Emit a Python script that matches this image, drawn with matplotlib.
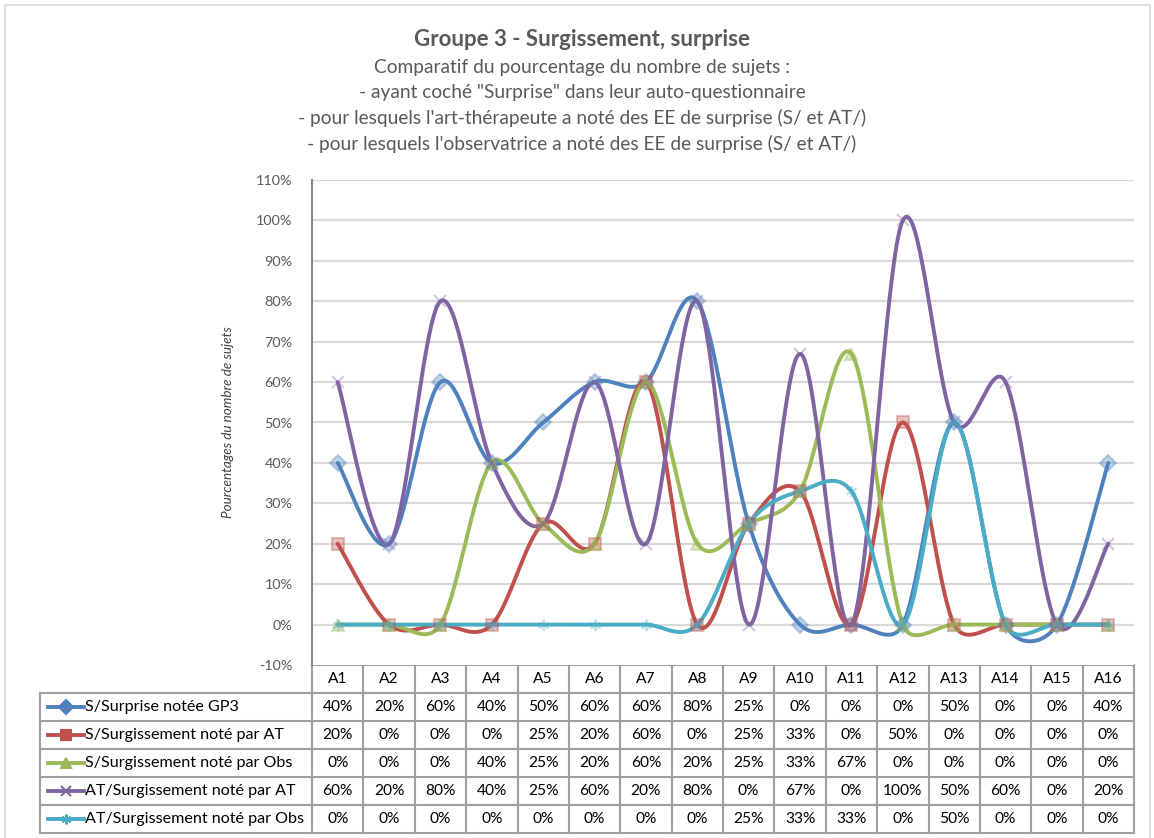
import matplotlib
matplotlib.use("Agg")
import matplotlib.pyplot as plt
import numpy as np

plt.rcParams['font.family'] = ['Lato', 'DejaVu Sans']

W, H = 1154, 838

categories = ["A1", "A2", "A3", "A4", "A5", "A6", "A7", "A8",
              "A9", "A10", "A11", "A12", "A13", "A14", "A15", "A16"]

s_surprise = [40, 20, 60, 40, 50, 60, 60, 80, 25, 0, 0, 0, 50, 0, 0, 40]
s_surg_at = [20, 0, 0, 0, 25, 20, 60, 0, 25, 33, 0, 50, 0, 0, 0, 0]
s_surg_obs = [0, 0, 0, 40, 25, 20, 60, 20, 25, 33, 67, 0, 0, 0, 0, 0]
at_surg_at = [60, 20, 80, 40, 25, 60, 20, 80, 0, 67, 0, 100, 50, 60, 0, 20]
at_surg_obs = [0, 0, 0, 0, 0, 0, 0, 0, 25, 33, 33, 0, 50, 0, 0, 0]

series_names = ["S/Surprise notée GP3", "S/Surgissement noté par AT",
                "S/Surgissement noté par Obs", "AT/Surgissement noté par AT",
                "AT/Surgissement noté par Obs"]
series_vals = [s_surprise, s_surg_at, s_surg_obs, at_surg_at, at_surg_obs]
colors = ["#4F81BD", "#C0504D", "#9BBB59", "#8064A2", "#4BACC6"]
markers = ["D", "s", "^", "x", (6, 2, 0)]

yticks = list(range(-10, 111, 10))

# pixel layout
PL, PR, PT, PB = 312, 1134, 180, 665
row_h = 28
ncol = len(categories)
cw = (PR - PL) / ncol
ypx = (PB - PT) / 120.0


def smooth(x, y, n=40):
    # Excel-like smoothed line: bezier, 1/6 tangents capped at half the segment
    P = np.column_stack([np.asarray(x, float) * cw, np.asarray(y, float) * ypx])
    Q = np.vstack([P[0], P, P[-1]])
    out = []
    t = np.linspace(0, 1, n)[:, None]
    for i in range(1, len(Q) - 2):
        p0, p1, p2, p3 = Q[i - 1], Q[i], Q[i + 1], Q[i + 2]
        d02 = np.linalg.norm(p2 - p0)
        d12 = np.linalg.norm(p2 - p1)
        d13 = np.linalg.norm(p3 - p1)
        f1 = 1 / 6 if d02 / 6 < d12 / 2 else d12 / (2 * d02)
        f2 = 1 / 6 if d13 / 6 < d12 / 2 else d12 / (2 * d13)
        c1 = p1 + (p2 - p0) * f1
        c2 = p2 - (p3 - p1) * f2
        b = (1 - t) ** 3 * p1 + 3 * (1 - t) ** 2 * t * c1 + 3 * (1 - t) * t ** 2 * c2 + t ** 3 * p2
        out.append(b)
    B = np.vstack(out)
    return B[:, 0] / cw, B[:, 1] / ypx


fig = plt.figure(figsize=(W / 100, H / 100), dpi=100)
fig.patch.set_facecolor("white")

# overlay axes in pixel coords for titles and table
ov = fig.add_axes([0, 0, 1, 1])
ov.set_xlim(0, W)
ov.set_ylim(H, 0)
ov.axis("off")

ov.add_patch(plt.Rectangle((5, 5), W - 9, H - 3, fill=False, edgecolor="#D9D9D9", lw=1.2))

ov.text(582, 40, "Groupe 3 - Surgissement, surprise", ha="center", va="center",
        fontsize=16, fontweight="bold", color="#595959")
subs = ["Comparatif du pourcentage du nombre de sujets :",
        "- ayant coché \"Surprise\" dans leur auto-questionnaire",
        "- pour lesquels l'art-thérapeute a noté des EE de surprise (S/ et AT/)",
        "- pour lesquels l'observatrice a noté des EE de surprise (S/ et AT/)"]
for i, s in enumerate(subs):
    ov.text(582, 67 + i * 25.5, s, ha="center", va="center", fontsize=13.8, color="#595959")

# main chart axes
ax = fig.add_axes([PL / W, 1 - PB / H, (PR - PL) / W, (PB - PT) / H])
xpos = np.arange(ncol)
ax.set_xlim(-0.5, ncol - 0.5)
ax.set_ylim(-10, 110)
ax.set_yticks(yticks)
ax.set_yticklabels([f"{v}%" for v in yticks], fontsize=10.4, color="#595959")
ax.tick_params(axis="y", length=0, pad=14)
ax.set_xticks([])
for v in yticks[1:]:
    ax.axhline(v, color="#D9D9D9", lw=1.6, zorder=0)
for sp in ["top", "right", "bottom"]:
    ax.spines[sp].set_visible(False)
ax.spines["left"].set_color("#868686")
ax.spines["left"].set_linewidth(1.5)
ax.set_ylabel("Pourcentages du nombre de sujets", fontsize=9.7, style="italic",
              color="#404040", labelpad=16)

for vals, c, m in zip(series_vals, colors, markers):
    sx, sy = smooth(xpos, vals)
    ax.plot(sx, sy, color=c, lw=2.8, zorder=3, solid_capstyle="round", clip_on=False)
    ax.plot(xpos, vals, linestyle="none", marker=m, color=c, ms=8, alpha=0.35,
            mew=1.5, zorder=4, clip_on=False)

# data table
LL = 40
gc = "#A0A0A0"
ov.plot([PL, PR], [PB, PB], color=gc, lw=1.5)
for j, cat in enumerate(categories):
    ov.text(PL + (j + 0.5) * cw, PB + row_h / 2, cat, ha="center", va="center",
            fontsize=11.2, color="black")
for i in range(len(series_names) + 1):
    y = PB + row_h * (i + 1)
    ov.plot([LL, PR], [y, y], color=gc, lw=1.5)
for j in range(ncol + 1):
    ov.plot([PL + j * cw] * 2, [PB, PB + row_h * 6], color=gc, lw=1.5)
ov.plot([LL, LL], [PB + row_h, PB + row_h * 6], color=gc, lw=1.5)

for i, (name, vals, c, m) in enumerate(zip(series_names, series_vals, colors, markers)):
    yc = PB + row_h * (i + 1.5)
    ov.plot([48, 84], [yc, yc], color=c, lw=2.8)
    ov.plot([66], [yc], marker=m, color=c, ms=7, mew=1.5)
    ov.text(85, yc, name, ha="left", va="center", fontsize=11.6, color="black")
    for j, v in enumerate(vals):
        ov.text(PL + (j + 0.5) * cw, yc, f"{v}%", ha="center", va="center",
                fontsize=11.2, color="black")

fig.savefig("out.png", dpi=100, facecolor="white")
